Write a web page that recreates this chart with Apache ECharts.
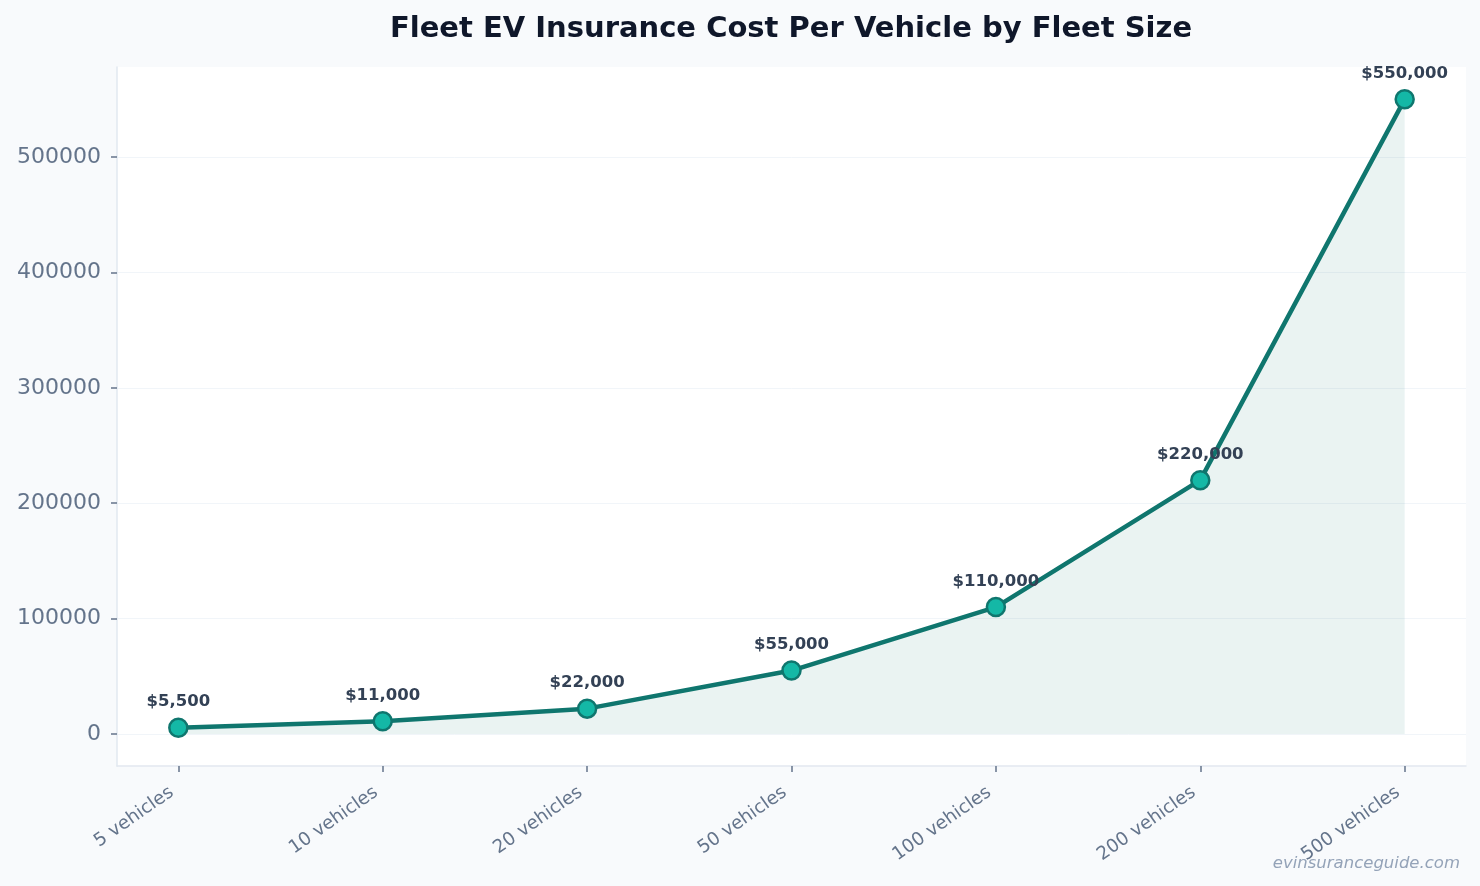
<!DOCTYPE html>
<html>
<head>
<meta charset="utf-8">
<title>Fleet EV Insurance Cost</title>
<script src="https://cdn.jsdelivr.net/npm/echarts@6/dist/echarts.min.js"></script>
<style>
  html, body { margin: 0; padding: 0; background: #f8fafc; }
  #chart { width: 1480px; height: 886px; }
</style>
</head>
<body>
<div id="chart"></div>
<script>
// fleet sizes and yearly cost
var categories = ['5 vehicles', '10 vehicles', '20 vehicles', '50 vehicles', '100 vehicles', '200 vehicles', '500 vehicles']
var costs = [5500, 11000, 22000, 55000, 110000, 220000, 550000]
var yTicks = [0, 100000, 200000, 300000, 400000, 500000]
var xTicks = [0, 1, 2, 3, 4, 5, 6]

var chart = echarts.init(document.getElementById('chart'))

var font = 'DejaVu Sans'
var option = {
  backgroundColor: '#f8fafc',
  animation: false,
  title: {
    text: 'Fleet EV Insurance Cost Per Vehicle by Fleet Size',
    left: 786,
    top: 10,
    textAlign: 'center',
    textStyle: {
      fontFamily: font,
      fontSize: 29,
      fontWeight: 'bold',
      color: '#0f172a'
    }
  },
  graphic: [
    {
      type: 'text',
      right: 20,
      bottom: 14,
      style: {
        text: 'evinsuranceguide.com',
        font: 'italic 16.5px "DejaVu Sans"',
        fill: '#94a3b8'
      }
    }
  ],
  grid: {
    left: 117,
    right: 14,
    top: 67,
    bottom: 120,
    show: true,
    backgroundColor: '#ffffff',
    borderWidth: 0
  },
  xAxis: {
    type: 'value',
    min: -0.3,
    max: 6.3,
    axisLine: { show: true, onZero: false, lineStyle: { color: '#e2e8f0', width: 1.5 } },
    axisTick: {
      show: true,
      customValues: xTicks,
      length: 6,
      lineStyle: { color: '#64748b', width: 1.5 }
    },
    splitLine: { show: false },
    axisLabel: {
      customValues: xTicks,
      rotate: 35,
      margin: 20,
      padding: [0, 8, 0, 0],
      fontFamily: font,
      fontSize: 18.3,
      color: '#64748b',
      formatter: function (v) {
        return categories[Math.round(v)]
      }
    }
  },
  yAxis: {
    type: 'value',
    min: -27700,
    max: 578000,
    axisLine: { show: true, onZero: false, lineStyle: { color: '#e2e8f0', width: 1.5 } },
    axisTick: {
      show: true,
      customValues: yTicks,
      length: 6,
      lineStyle: { color: '#64748b', width: 1.5 }
    },
    splitLine: { show: true, lineStyle: { color: '#f1f5f9', width: 1 } },
    axisLabel: {
      customValues: yTicks,
      margin: 16,
      fontFamily: font,
      fontSize: 22,
      color: '#64748b',
      formatter: function (v) {
        return String(v)
      }
    }
  },
  series: [
    {
      type: 'line',
      data: costs.map(function (v, i) {
        return [i, v]
      }),
      symbol: 'circle',
      symbolSize: 18,
      lineStyle: { color: '#0f766e', width: 4.5 },
      itemStyle: { color: '#14b8a6', borderColor: '#0f766e', borderWidth: 2.5 },
      areaStyle: { color: 'rgba(15, 118, 110, 0.12)' },
      label: {
        show: true,
        position: 'top',
        distance: 7,
        fontFamily: font,
        fontSize: 16.5,
        fontWeight: 'bold',
        color: '#334155',
        formatter: function (p) {
          return '$' + p.value[1].toLocaleString('en-US')
        }
      }
    }
  ]
}
chart.setOption(option)
</script>
</body>
</html>
